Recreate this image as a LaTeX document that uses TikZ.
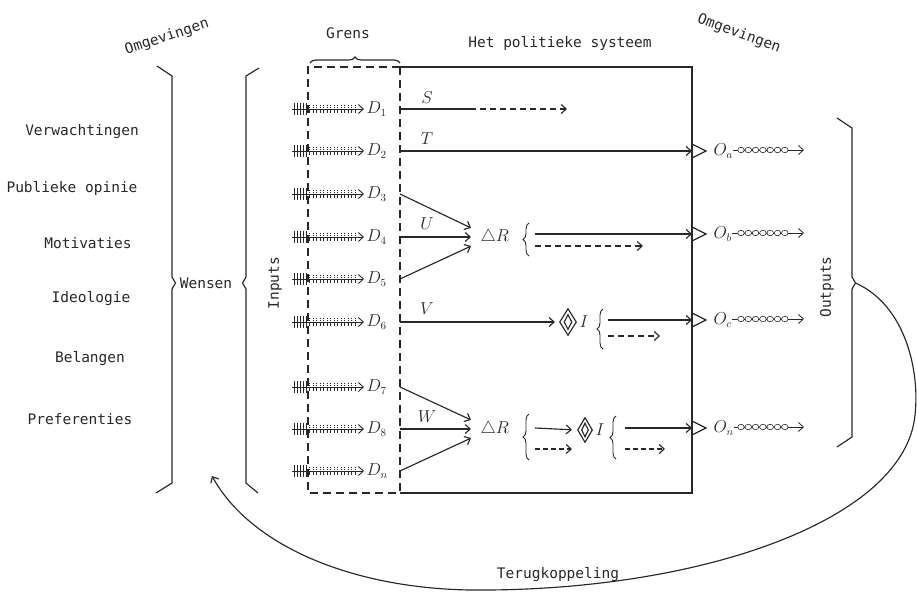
\documentclass[tikz,border=0pt]{standalone}
\usepackage{fontspec}
\newfontfamily\monof{DejaVu Sans Mono}
\usetikzlibrary{arrows.meta,decorations.pathreplacing,shapes.geometric}
\definecolor{ink}{RGB}{40,40,40}
\newcommand\hashticks[1]{%
  \foreach \hx in {294,297,...,306} \draw[line width=0.7pt] (\hx,#1-6) -- (\hx,#1+6);
  \foreach \hx in {309.5,313,...,357} \draw[line width=0.7pt,dash pattern=on 1.4pt off 0.9pt] (\hx,#1-4.5) -- (\hx,#1+4.5);
}
\begin{document}
\begin{tikzpicture}[x=1pt,y=-1pt,line width=1.15pt,color=ink,
  lbl/.style={font=\monof\fontsize{14.5}{17}\selectfont,inner sep=0pt},
  mth/.style={font=\fontsize{16}{19}\selectfont,inner sep=0pt},
  arr/.style={-{Straight Barb[length=5pt,width=9pt]}},
  dsh/.style={dash pattern=on 6pt off 4pt},
  gdash/.style={dash pattern=on 8pt off 5pt},
  dia/.style={diamond,draw,inner sep=0pt},
  brc/.style={decorate,decoration={brace,amplitude=6pt}},
  chainc/.style={fill=white,line width=0.6pt},
]
\useasboundingbox (0,0) rectangle (917,592);

% ---- texts in the environment
\node[lbl,rotate=18]  (omgL) at (167,37) {Omgevingen};
\node[lbl,rotate=-20] (omgR) at (739,34) {Omgevingen};
\node[lbl] (grens) at (348,33) {Grens};
\node[lbl] (hps) at (560,43) {Het politieke systeem};
\node[lbl] (verw) at (82,132) {Verwachtingen};
\node[lbl] (publ) at (72,188) {Publieke opinie};
\node[lbl] (moti) at (88,243) {Motivaties};
\node[lbl] (ideo) at (91,299) {Ideologie};
\node[lbl] (bela) at (90,359) {Belangen};
\node[lbl] (pref) at (80,419) {Preferenties};
\node[lbl] (wens) at (206,283) {Wensen};
\node[lbl,rotate=90] (inp) at (275,283) {Inputs};
\node[lbl,rotate=90] (outp) at (827,287) {Outputs};
\node[lbl] (terug) at (558,574) {Terugkoppeling};

% ---- big brackets
\draw (157,66) -- (172,76) -- (172,277) -- (175.5,283) -- (172,289) -- (172,483) -- (156,493);
\draw (259,68) -- (246,76) -- (246,277) -- (242.5,283) -- (246,289) -- (246,483) -- (258,493);
\draw (837,118) -- (852,128) -- (852,277) -- (855.5,283) -- (852,289) -- (852,437) -- (837,447);
\draw[brc] (310,63) -- (400,63);

% ---- boundary and system box
\draw[gdash] (400,67) -- (308,67) -- (308,493) -- (400,493);
\draw[gdash] (400,67) -- (400,493);
\draw (400,67) -- (692,67) -- (692,493) -- (400,493);

% ---- inputs D
\foreach \n/\yy in {1/109, 2/151, 3/194, 4/237, 5/279, 6/322, 7/387, 8/429, n/471} {
  \node[mth,anchor=west,inner xsep=2pt] (D\n) at (364,\yy) {$D_{\n}$};
  \coordinate (h\n) at (292,\yy);
  \coordinate (r\n) at (400,\yy);
  \draw[arr,line width=0.9pt] (h\n) -- (D\n.west);
  \hashticks{\yy}
}

% ---- row S
\node[mth] (S) at (427,98) {$S$};
\coordinate (s1m) at (470,109);
\coordinate (s1e) at (567,109);
\draw (r1) -- (s1m);
\draw[dsh,arr] (s1m) -- (s1e);

% ---- row T
\node[mth] (T) at (427,139) {$T$};
\coordinate (ea) at (692,151);
\draw[arr] (r2) -- (ea);

% ---- rows U
\node[mth] (U) at (427,224) {$U$};
\node[mth,anchor=west,inner xsep=9pt,minimum height=17pt] (R1) at (471,237) {$\triangle R$};
\draw[arr] (r3) -- (R1.north west);
\draw[arr] (r4) -- (R1.west);
\draw[arr] (r5) -- (R1.south west);
\draw[brc,line width=0.9pt] (529,256) -- (529,223);
\coordinate (u1) at (535,234);
\coordinate (u2) at (535,246);
\coordinate (eb) at (692,234);
\coordinate (u2e) at (643,246);
\draw[arr] (u1) -- (eb);
\draw[dsh,arr] (u2) -- (u2e);

% ---- row V
\node[mth] (V) at (427,309) {$V$};
\node[dia,minimum width=17pt,minimum height=27pt] (I1) at (568,322) {};
\node[dia,minimum width=8pt,minimum height=15pt] (I1i) at (568,322) {};
\node[mth,anchor=west,inner xsep=2pt] (IL1) at (I1.east) {$I$};
\draw[arr,shorten >=4pt] (r6) -- (I1.west);
\draw[brc,line width=0.9pt] (603,349) -- (603,309);
\coordinate (v1) at (608,320);
\coordinate (v2) at (608,336);
\coordinate (ec) at (692,320);
\coordinate (v2e) at (660,336);
\draw[arr] (v1) -- (ec);
\draw[dsh,arr] (v2) -- (v2e);

% ---- row W
\node[mth] (W) at (427,417) {$W$};
\node[mth,anchor=west,inner xsep=9pt,minimum height=17pt] (R2) at (471,429) {$\triangle R$};
\draw[arr] (r7) -- (R2.north west);
\draw[arr] (r8) -- (R2.west);
\draw[arr] (rn) -- (R2.south west);
\draw[brc,line width=0.9pt] (529,460) -- (529,414);
\node[dia,minimum width=15pt,minimum height=25pt] (I2) at (585,430) {};
\node[dia,minimum width=7pt,minimum height=14pt] (I2i) at (585,430) {};
\node[mth,anchor=west,inner xsep=2pt] (IL2) at (I2.east) {$I$};
\coordinate (w1) at (535,428);
\coordinate (w2) at (535,449);
\coordinate (w2e) at (572,449);
\draw[arr,shorten >=5pt] (w1) -- (I2.west);
\draw[dsh,arr,dash pattern=on 5pt off 3pt] (w2) -- (w2e);
\draw[brc,line width=0.9pt] (616,459) -- (616,416);
\coordinate (x1) at (625,428);
\coordinate (x2) at (625,449);
\coordinate (en) at (692,428);
\coordinate (x2e) at (665,449);
\draw[arr] (x1) -- (en);
\draw[dsh,arr,dash pattern=on 5pt off 3pt] (x2) -- (x2e);

% ---- outputs O
\foreach \n/\yy in {a/151, b/234, c/320, n/428} {
  \draw (692,\yy-7) -- (706,\yy) -- (692,\yy+7);
  \node[mth,anchor=west] (O\n) at (713,\yy) {$O_{\n}$};
  \coordinate (oe\n) at (804,\yy-1);
  \draw[arr,line width=0.8pt] (O\n.east |- oe\n) -- (oe\n);
  \foreach \k in {0,...,6} \draw[chainc] (741+7.3*\k,\yy-1) ellipse (3.3 and 2.7);
}

% ---- feedback
\coordinate (fbs) at (855.5,283);
\coordinate (fbe) at (212,476);
\draw[arr] (fbs) .. controls (905,305) and (920,370) .. (915,415)
  .. controls (905,520) and (700,592) .. (470,590)
  .. controls (350,588) and (250,545) .. (fbe);
\end{tikzpicture}
\end{document}
